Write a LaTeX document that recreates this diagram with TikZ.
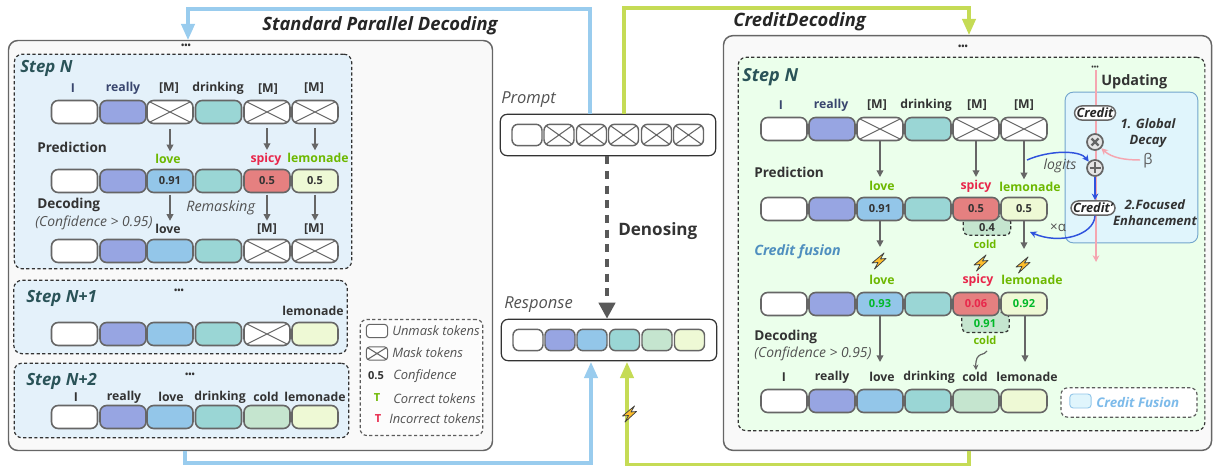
\documentclass[tikz,border=0pt]{standalone}
\usepackage{fontspec}
\setmainfont{Open Sans}
\usetikzlibrary{arrows.meta,calc}
\definecolor{bd}{HTML}{666666}
\definecolor{cv}{HTML}{97A5E2}
\definecolor{cb}{HTML}{93C6E9}
\definecolor{ct}{HTML}{9AD6D5}
\definecolor{cr}{HTML}{E58080}
\definecolor{cl}{HTML}{EEF9D5}
\definecolor{cc}{HTML}{C5E5CF}
\definecolor{txt}{HTML}{333333}
\definecolor{dbl}{HTML}{39466E}
\definecolor{ok}{HTML}{6DB800}
\definecolor{bad}{HTML}{E8274B}
\definecolor{vok}{HTML}{00B828}
\definecolor{stp}{HTML}{2A5358}
\definecolor{linb}{HTML}{99CCEE}
\definecolor{ling}{HTML}{C5DB55}
\definecolor{pnk}{HTML}{F5A6B0}
\definecolor{blu}{HTML}{2F52DD}
\definecolor{upd}{HTML}{E0F5FC}
\definecolor{cfa}{HTML}{4F8FBF}
\definecolor{cfb}{HTML}{7DBBEA}
\definecolor{bolt}{HTML}{FDBD2C}
\tikzset{
 tok/.style={draw=bd,line width=1.2pt,rounded corners=5pt,minimum width=34.5pt,minimum height=17.25pt,inner sep=0pt,font=\fontsize{8.3}{8}\selectfont\bfseries,text=txt},
 sm/.style={minimum width=22.5pt,minimum height=16pt,line width=1.1pt,rounded corners=4.5pt},
 leg/.style={minimum width=16pt,minimum height=10pt,line width=.8pt,rounded corners=2.5pt},
 tw/.style={fill=white}, tv/.style={fill=cv}, tb/.style={fill=cb}, tt/.style={fill=ct},
 tr/.style={fill=cr}, tg/.style={fill=cl}, tc/.style={fill=cc},
 masktok/.style={fill=white,path picture={\draw[bd,line width=.8pt]
   (path picture bounding box.north west)--(path picture bounding box.south east)
   (path picture bounding box.north east)--(path picture bounding box.south west);}},
 lab/.style={inner sep=0pt,font=\fontsize{9.2}{10}\selectfont\bfseries,text=txt},
 glab/.style={lab,text=ok},
 rlab/.style={lab,text=bad},
 hd/.style={inner sep=0pt,anchor=west,font=\fontsize{10.2}{11}\selectfont\bfseries,text=txt},
 itx/.style={inner sep=0pt,font=\fontsize{9.7}{10}\selectfont\itshape,text=txt!85},
 bi/.style={inner sep=0pt,font=\fontsize{9.7}{12}\selectfont\bfseries\itshape,text=txt},
 stepl/.style={inner sep=0pt,anchor=west,font=\fontsize{12.6}{13}\selectfont\bfseries\itshape,text=stp},
 ttl/.style={inner sep=0pt,font=\fontsize{13.8}{14}\selectfont\bfseries\itshape,text=black!85},
 dots/.style={inner sep=0pt,font=\fontsize{6.5}{7}\selectfont\bfseries,text=txt},
 panel/.style={draw=bd,line width=1.1pt,rounded corners=7pt,fill=black!2.5},
 dbox/.style={draw=txt,line width=.9pt,dash pattern=on 2.4pt off 1.8pt,rounded corners=6pt},
 garr/.style={draw=bd,line width=1.1pt,-{Triangle[length=5pt,width=5pt]}},
 bigb/.style={draw=linb,line width=2.3pt},
 bigg/.style={draw=ling,line width=2.3pt},
 headb/.style={-{Triangle[length=12pt,width=10pt]}},
 bluea/.style={draw=blu,line width=1.1pt,-{Stealth[length=5pt,width=5pt]}},
 pinka/.style={draw=pnk,line width=1.1pt,-{Stealth[length=5pt,width=5pt]}},
 opn/.style={circle,draw=bd,line width=1.3pt,fill=black!10,minimum size=12pt,inner sep=0pt},
 crd/.style={draw=bd,line width=1.1pt,rounded corners=5.5pt,fill=white,inner sep=1.6pt,font=\fontsize{9.6}{10}\selectfont\bfseries\itshape,text=black!85},
}
\newcommand{\tk}[5]{\node[tok,#4] (#1) at (#2,#3) {#5};}
\newcommand{\boltg}[1]{\draw[fill=bolt,draw=black!75,line width=.55pt,line join=round,shift={#1}]
  (5,-8) -- (-7,2) -- (-1,1.5) -- (-4.5,8) -- (7,-2.5) -- (1.5,-2) -- cycle;}
\begin{document}
\begin{tikzpicture}[x=0.75pt,y=-0.75pt]
\useasboundingbox (0,0) rectangle (1213,466);
% panels
\node[panel,minimum width=363pt,minimum height=307.5pt,inner sep=0pt] (lpanel) at (250.5,245.5) {};
\node[panel,minimum width=366pt,minimum height=311pt,inner sep=0pt] (rpanel) at (967.5,243) {};
\node[dbox,fill=cb!25,minimum width=253pt,minimum height=161pt,inner sep=0pt] (stepN) at (183,161.5) {};
\node[dbox,fill=cb!25,minimum width=250pt,minimum height=55pt,inner sep=0pt] (stepNa) at (180.5,317) {};
\node[dbox,fill=cb!25,minimum width=251pt,minimum height=56pt,inner sep=0pt] (stepNb) at (181.5,400.5) {};
\node[dbox,rounded corners=5pt,fill=black!1,draw=txt!80,minimum width=92pt,minimum height=87pt,inner sep=0pt] (legend) at (421.5,377.5) {};
\node[dbox,fill=green!8,minimum width=350pt,minimum height=280pt,inner sep=0pt] (stepR) at (971.5,244) {};
\node[draw=cfa!80,line width=.7pt,rounded corners=6pt,fill=upd,minimum width=99.5pt,minimum height=113pt,inner sep=0pt] (upbox) at (1131.5,167.5) {};
% titles
\node[ttl,anchor=west] (t1) at (262,26) {Standard Parallel Decoding};
\node[ttl,anchor=west] (t2) at (733,22) {CreditDecoding};
\node[dots] (dl) at (186,46) {•••};
\node[dots] (dr) at (963,47) {•••};
\node[stepl] (sn) at (20,68.5) {Step N};
\node[stepl] (sna) at (26,298.5) {Step N+1};
\node[stepl] (snb) at (26,381.5) {Step N+2};
\node[stepl,font=\fontsize{13.5}{14}\selectfont\bfseries\itshape] (sr) at (742,77.5) {Step N};
% LEFT Step N
\node[lab,text=dbl] (la1) at (73,88) {I};
\node[lab,text=dbl] (la2) at (123,88) {really};
\node[lab] (la3) at (169,88.5) {[M]};
\node[lab] (la4) at (218,88) {drinking};
\node[lab] (la5) at (268,89) {[M]};
\node[lab] (la6) at (314,88) {[M]};
\tk{a1}{74.5}{112}{tw}{} \tk{a2}{123}{112}{tv}{} \tk{a3}{170}{112}{masktok}{} \tk{a4}{218.5}{112}{tt}{} \tk{a5}{267}{112}{masktok}{} \tk{a6}{315}{112}{masktok}{}
\node[hd] (pl) at (37,147) {Prediction};
\node[glab] (ll1) at (168,159) {love};
\node[rlab] (ll2) at (266,159) {spicy};
\node[glab] (ll3) at (318,158) {lemonade};
\tk{b1}{74.5}{181}{tw}{} \tk{b2}{123}{181}{tv}{} \tk{b3}{170}{181}{tb}{0.91} \tk{b4}{218.5}{181}{tt}{} \tk{b5}{267}{181}{tr}{0.5} \tk{b6}{315}{181}{tg}{0.5}
\node[hd] (dcl) at (37,205) {Decoding};
\node[itx,anchor=west,font=\fontsize{10.4}{11}\selectfont\itshape] (cfl) at (35,223) {(Confidence > 0.95)};
\node[itx,anchor=west,font=\fontsize{10.8}{11}\selectfont\itshape] (rm) at (186,208) {Remasking};
\node[lab] (l21) at (168,228.5) {love};
\node[lab] (l22) at (267,229) {[M]};
\node[lab] (l23) at (314,229) {[M]};
\tk{c1}{74.5}{251}{tw}{} \tk{c2}{123}{251}{tv}{} \tk{c3}{170}{251}{tb}{} \tk{c4}{218.5}{251}{tt}{} \tk{c5}{267}{251}{masktok}{} \tk{c6}{315}{251}{masktok}{}
\draw[garr,shorten <=3.5pt,shorten >=2pt] (a3.south) -- (a3.south |- ll1.north);
\draw[garr,shorten <=3pt,shorten >=2pt] (a5.south) -- (a5.south |- ll2.north);
\draw[garr,shorten <=3pt,shorten >=2pt] (a6.south) -- (a6.south |- ll3.north);
\draw[garr,shorten <=1pt,shorten >=2pt] (b3.south) -- (b3.south |- l21.north);
\draw[garr,shorten <=1pt,shorten >=2pt] (b5.south) -- (b5.south |- l22.north);
\draw[garr,shorten <=1pt,shorten >=2pt] (b6.south) -- (b6.south |- l23.north);
% N+1
\node[dots] (dn1) at (179,291) {•••};
\node[lab] (ln1) at (313,311) {lemonade};
\tk{d1}{74.5}{334}{tw}{} \tk{d2}{123}{334}{tv}{} \tk{d3}{170}{334}{tb}{} \tk{d4}{218.5}{334}{tt}{} \tk{d5}{267}{334}{masktok}{} \tk{d6}{315}{334}{tg}{}
% N+2
\node[dots] (dn2) at (190,375) {•••};
\node[lab] (e1l) at (76,397) {I};
\node[lab] (e2l) at (124,397) {really};
\node[lab] (e3l) at (171,397) {love};
\node[lab] (e4l) at (220,397) {drinking};
\node[lab] (e5l) at (266,397) {cold};
\node[lab] (e6l) at (315,397) {lemonade};
\tk{e1}{74.5}{417}{tw}{} \tk{e2}{123}{417}{tv}{} \tk{e3}{170}{417}{tb}{} \tk{e4}{218.5}{417}{tt}{} \tk{e5}{267}{417}{tc}{} \tk{e6}{315}{417}{tg}{}
% legend
\tk{lg1}{377}{331}{tw,leg}{}
\tk{lg2}{377}{353.5}{masktok,leg}{}
\node[itx,anchor=west] (lt1) at (392,331) {Unmask tokens};
\node[itx,anchor=west] (lt2) at (392,353) {Mask tokens};
\node[lab,font=\fontsize{8.3}{9}\selectfont\bfseries] (lg3) at (376,376) {0.5};
\node[itx,anchor=west] (lt3) at (393,376) {Confidence};
\node[lab,text=ok,font=\fontsize{8.3}{9}\selectfont\bfseries] (lg4) at (377,398) {T};
\node[itx,anchor=west] (lt4) at (393,399) {Correct tokens};
\node[lab,text=bad,font=\fontsize{8.3}{9}\selectfont\bfseries] (lg5) at (378,419) {T};
\node[itx,anchor=west] (lt5) at (389,419) {Incorrect tokens};
% centre
\node[itx,anchor=west,font=\fontsize{12.4}{13}\selectfont\itshape] (pr) at (501,100) {Prompt};
\node[itx,anchor=west,font=\fontsize{12.4}{13}\selectfont\itshape] (rs) at (504,305) {Response};
\node[draw=black!80,line width=.9pt,rounded corners=5pt,fill=white,minimum width=161.5pt,minimum height=31pt,inner sep=0pt] (pbox) at (608,135) {};
\node[draw=black!80,line width=.9pt,rounded corners=5pt,fill=white,minimum width=161.5pt,minimum height=31pt,inner sep=0pt] (rbox) at (609,340) {};
\tk{p1}{527}{135}{tw,sm}{} \tk{p2}{559}{135}{masktok,sm}{} \tk{p3}{591.5}{135}{masktok,sm}{} \tk{p4}{623.5}{135}{masktok,sm}{} \tk{p5}{656.5}{135}{masktok,sm}{} \tk{p6}{688.5}{135}{masktok,sm}{}
\tk{r1}{528}{340}{tw,sm}{} \tk{r2}{560}{340}{tv,sm}{} \tk{r3}{592}{340}{tb,sm}{} \tk{r4}{624.5}{340}{tt,sm}{} \tk{r5}{657}{340}{tc,sm}{} \tk{r6}{689.5}{340}{tg,sm}{}
\node[inner sep=0pt,anchor=west,font=\fontsize{12.8}{13}\selectfont\bfseries,text=txt] (dn) at (618,231) {Denosing};
\draw[draw=black!65,line width=3pt,dash pattern=on 6pt off 5pt] ($(pbox.south)+(-1,0)$) -- ($(rbox.north)+(-2,-10)$);
\draw[draw=black!65,line width=3pt,-{Triangle[length=12pt,width=12pt]}] ($(rbox.north)+(-2,-14)$) -- ($(rbox.north)+(-2,0)$);
% big connectors
\coordinate (bt) at (590,114); \coordinate (btl) at (188,9); \coordinate (bin) at (188,40);
\coordinate (bb) at (185,451); \coordinate (bbr) at (591,463); \coordinate (bou) at (591,362);
\coordinate (gt) at (624,114); \coordinate (gtr) at (969,8); \coordinate (gin) at (969,35);
\coordinate (gb) at (969,451); \coordinate (gbl) at (627,465); \coordinate (gou) at (627,362);
\draw[bigb,headb] (bt) |- (btl) -- (bin);
\draw[bigb,headb] (bb) |- (bbr) -- (bou);
\draw[bigg,headb] (gt) |- (gtr) -- (gin);
\draw[bigg,headb] (gb) |- (gbl) -- (gou);
\boltg{(629.5,414)}
% RIGHT
\node[lab,text=dbl] (ra1) at (781,105) {I};
\node[lab,text=dbl] (ra2) at (831,105) {really};
\node[lab] (ra3) at (877,105) {[M]};
\node[lab] (ra4) at (926,105) {drinking};
\node[lab] (ra5) at (977,105) {[M]};
\node[lab] (ra6) at (1024,105) {[M]};
\tk{f1}{784}{129}{tw}{} \tk{f2}{832}{129}{tv}{} \tk{f3}{880}{129}{masktok}{} \tk{f4}{928}{129}{tt}{} \tk{f5}{976}{129}{masktok}{} \tk{f6}{1024}{129}{masktok}{}
\node[hd] (rp) at (754,172) {Prediction};
\node[glab] (m1) at (882,186) {love};
\node[rlab] (m2) at (976,186) {spicy};
\node[glab] (m3) at (1030,187) {lemonade};
\node[dbox,fill=cc,rounded corners=4pt,minimum width=35.5pt,minimum height=14pt,inner sep=0pt,anchor=north] (cb1) at (987,216) {};
\node[lab,font=\fontsize{8.3}{9}\selectfont\bfseries] (cv1) at (987,228) {0.4};
\node[glab,font=\fontsize{8.3}{9}\selectfont\bfseries] (cl1) at (985,244) {cold};
\tk{g1}{784}{209}{tw}{} \tk{g2}{832}{209}{tv}{} \tk{g3}{880}{209}{tb}{0.91} \tk{g4}{928}{209}{tt}{} \tk{g5}{976}{209}{tr}{0.5} \tk{g6}{1024}{209}{tg}{0.5}
\node[inner sep=0pt,anchor=west,font=\fontsize{10.7}{11}\selectfont\bfseries\itshape,text=cfa] (cf) at (754,252) {Credit fusion};
\boltg{(879,261)} \boltg{(981,263)} \boltg{(1023,265)}
\node[glab] (n1) at (882,280) {love};
\node[rlab] (n2) at (978,280) {spicy};
\node[glab] (n3) at (1032,280) {lemonade};
\node[dbox,fill=cc,rounded corners=4pt,minimum width=35.5pt,minimum height=15pt,inner sep=0pt,anchor=north] (cb2) at (985.5,312) {};
\node[lab,text=vok,font=\fontsize{8.3}{9}\selectfont\bfseries] (cv2) at (985,324) {0.91};
\node[glab,font=\fontsize{8.3}{9}\selectfont\bfseries] (cl2) at (985,340) {cold};
\tk{h1}{784}{304}{tw}{} \tk{h2}{832}{304}{tv}{} \tk{h3}{880}{304}{tb,text=vok}{0.93} \tk{h4}{928}{304}{tt}{} \tk{h5}{976}{304}{tr,text=bad}{0.06} \tk{h6}{1024}{304}{tg,text=vok}{0.92}
\node[hd] (rd) at (754,337) {Decoding};
\node[itx,anchor=west,font=\fontsize{10.4}{11}\selectfont\itshape] (rc) at (754,354) {(Confidence > 0.95)};
\node[lab] (o1) at (784,377) {I};
\node[lab] (o2) at (832,377) {really};
\node[lab] (o3) at (882,377) {love};
\node[lab] (o4) at (929,377) {drinking};
\node[lab] (o5) at (975,377) {cold};
\node[lab] (o6) at (1027,377) {lemonade};
\tk{i1}{784}{401}{tw}{} \tk{i2}{832}{401}{tv}{} \tk{i3}{880}{401}{tb}{} \tk{i4}{928}{401}{tt}{} \tk{i5}{976}{401}{tc}{} \tk{i6}{1024}{401}{tg}{}
\draw[garr,shorten >=3pt] (f3.south) -- (f3.south |- m1.north);
\draw[garr,shorten >=2pt] (f5.south) -- (f5.south |- m2.north);
\draw[garr,shorten >=2pt] (f6.south) -- (f6.south |- m3.north);
\coordinate (bo1) at (880,247); \coordinate (bo2) at (1024,249);
\coordinate (bo3) at (880,362); \coordinate (bo4) at (1025,362);
\draw[garr] (g3.south) -- (bo1);
\draw[garr] (g6.south) -- (bo2);
\draw[garr] (h3.south) -- (bo3);
\draw[garr] (h6.south -| bo4) -- (bo4);
\coordinate (cs) at (987,351);
\draw[bd,line width=.9pt,-{Stealth[length=4pt,width=4pt]}] (cs) .. controls (985,356) and (975,351) .. (976,370);
% update
\node[inner sep=0pt,anchor=west,font=\fontsize{10.8}{11}\selectfont\bfseries,text=txt] (up) at (1101,82) {Updating};
\node[dots,font=\fontsize{5}{5}\selectfont\bfseries] (ud) at (1095,68) {•••};
\coordinate (pe) at (1096,262);
\draw[pinka] (ud.south -| pe) -- (pe);
\node[crd] (cr) at (1095,113) {Credit};
\node[crd] (crp) at (1093,208) {Credit'};
\node[opn] (ot) at (1095,142) {};
\node[opn] (op) at (1095,168) {};
\draw[bd,line width=1.8pt] (ot.center)++(-3.5,-3.5)--++(7,7) (ot.center)++(3.5,-3.5)--++(-7,7);
\draw[bd,line width=2pt] (op.center)++(-5.5,0)--++(11,0) (op.center)++(0,-5.5)--++(0,11);
\node[bi,align=center] (ug) at (1148,133) {1. Global\\Decay};
\node[bi,align=center] (uf) at (1155,213) {2.Focused\\Enhancement};
\node[inner sep=0pt,font=\fontsize{11}{12}\selectfont,text=txt!80] (beta) at (1148,161) {β};
\node[itx,font=\fontsize{10.5}{11}\selectfont\itshape] (lg) at (1060,166) {logits};
\node[inner sep=0pt,font=\fontsize{10}{11}\selectfont,text=txt!85] (xa) at (1058,228) {×α};
\coordinate (bs) at (1140,160);
\draw[pinka] (bs) .. controls (1125,160) and (1112,158) .. (ot.south east);
\coordinate (ls) at (1027,160);
\draw[bluea] (ls) .. controls (1050,150) and (1080,150) .. (op.north west);
\draw[bluea] (op.south) -- (crp.north -| op.south);
\coordinate (ae) at (1030,232);
\draw[bluea] (crp.south) ++(2,0) .. controls (1094,235) and (1060,245) .. (ae);
% credit fusion legend
\node[dbox,fill=white,rounded corners=5pt,draw=txt!80,minimum width=102pt,minimum height=22pt,inner sep=0pt] (cfbx) at (1129,402.5) {};
\node[draw=cb,line width=.7pt,rounded corners=2.5pt,fill=upd,minimum width=16pt,minimum height=10.5pt,inner sep=0pt] (cfs) at (1080.5,401) {};
\node[inner sep=0pt,anchor=west,font=\fontsize{10}{10}\selectfont\bfseries\itshape,text=cfb] (cft) at (1096,402) {Credit Fusion};
\end{tikzpicture}
\end{document}
